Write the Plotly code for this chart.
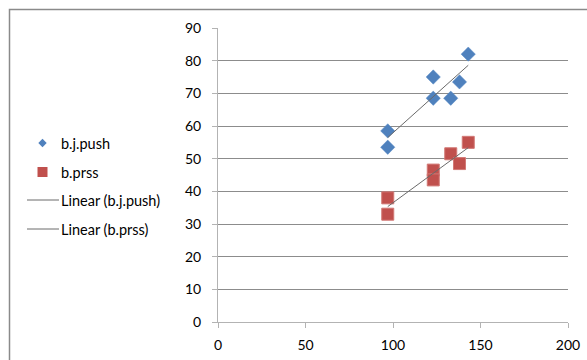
import numpy as np
import plotly.graph_objects as go

# Observations
x_push = [97, 97, 123, 123, 133, 138, 143]
y_push = [58.5, 53.5, 75, 68.5, 68.5, 73.5, 82]
x_prss = [97, 97, 123, 123, 133, 138, 143]
y_prss = [38, 33, 46.5, 43.5, 51.5, 48.5, 55]

x_ticks = [0, 50, 100, 150, 200]
y_ticks = [0, 10, 20, 30, 40, 50, 60, 70, 80, 90]

legend_labels = ["b.j.push", "b.prss", "Linear (b.j.push)", "Linear (b.prss)"]

BLUE = "#4F81BD"
RED = "#C0504D"
TREND = "#6a6a6a"
FONT = "Lato"

W, H = 587, 360
L, R, T, B = 218, 19, 28, 38
PW, PH = W - L - R, H - T - B


def px_x(px):
    return (px - L) / PW


def px_y(py):
    return (H - B - py) / PH


def trend(xs, ys):
    k, c = np.polyfit(xs, ys, 1)
    xx = np.array([min(xs), max(xs)], dtype=float)
    return xx, k * xx + c


fig = go.Figure()

fig.add_trace(go.Scatter(
    x=x_push, y=y_push, mode="markers", name=legend_labels[0],
    marker=dict(symbol="diamond", size=11, color=BLUE,
                line=dict(color="#5b8cc6", width=0.5)),
))
fig.add_trace(go.Scatter(
    x=x_prss, y=y_prss, mode="markers", name=legend_labels[1],
    marker=dict(symbol="square", size=12, color=RED,
                line=dict(color="#d27875", width=1)),
))

tx, ty = trend(x_push, y_push)
fig.add_trace(go.Scatter(x=tx, y=ty, mode="lines", name=legend_labels[2],
                         line=dict(color=TREND, width=1)))
tx, ty = trend(x_prss, y_prss)
fig.add_trace(go.Scatter(x=tx, y=ty, mode="lines", name=legend_labels[3],
                         line=dict(color=TREND, width=1)))

# Outer chart frame
fig.add_shape(type="rect", xref="paper", yref="paper",
              x0=px_x(9.5), x1=px_x(600), y0=px_y(380), y1=px_y(9.5),
              line=dict(color="#8a8a8a", width=1.5), layer="below")

# Legend on the left: symbols + labels
row_y = [143, 172, 200, 229]
sym_cx = 42.5
text_x = 59

d = 4.2  # half-diagonal of the legend diamond
cy = row_y[0]
fig.add_shape(type="path", xref="paper", yref="paper",
              path=(f"M {px_x(sym_cx)} {px_y(cy - d)} L {px_x(sym_cx + d)} {px_y(cy)} "
                    f"L {px_x(sym_cx)} {px_y(cy + d)} L {px_x(sym_cx - d)} {px_y(cy)} Z"),
              fillcolor=BLUE, line=dict(width=0))
s = 5
cy = row_y[1]
fig.add_shape(type="rect", xref="paper", yref="paper",
              x0=px_x(sym_cx - s), x1=px_x(sym_cx + s),
              y0=px_y(cy + s), y1=px_y(cy - s),
              fillcolor=RED, line=dict(width=0))
for cy in row_y[2:]:
    fig.add_shape(type="line", xref="paper", yref="paper",
                  x0=px_x(27), x1=px_x(59), y0=px_y(cy), y1=px_y(cy),
                  line=dict(color=TREND, width=1))

for lab, cy in zip(legend_labels, row_y):
    fig.add_annotation(text=lab, xref="paper", yref="paper",
                       x=px_x(text_x), y=px_y(cy), xanchor="left", yanchor="middle",
                       showarrow=False, font=dict(family=FONT, size=14.5, color="#000000"))

fig.update_layout(
    width=W, height=H,
    margin=dict(l=L, r=R, t=T, b=B, pad=0),
    paper_bgcolor="white", plot_bgcolor="white",
    font=dict(family=FONT, size=14, color="#000000"),
    showlegend=False,
    xaxis=dict(
        range=[0, 200], tickvals=x_ticks, ticktext=[str(v) for v in x_ticks],
        showgrid=False, zeroline=False, automargin=False,
        showline=True, linecolor="#b3b3b3", linewidth=1,
        ticks="outside", ticklen=5, tickcolor="#b3b3b3",
        ticklabelstandoff=5,
        tickfont=dict(family=FONT, size=14),
    ),
    yaxis=dict(
        range=[0, 90], tickvals=y_ticks, ticktext=[str(v) for v in y_ticks],
        showgrid=True, gridcolor="#8c8c8c", gridwidth=1, zeroline=False, automargin=False,
        showline=True, linecolor="#b3b3b3", linewidth=1,
        ticks="outside", ticklen=5, tickcolor="#b3b3b3",
        ticklabelstandoff=8,
        tickfont=dict(family=FONT, size=14),
    ),
)

fig.write_html("out.html")
